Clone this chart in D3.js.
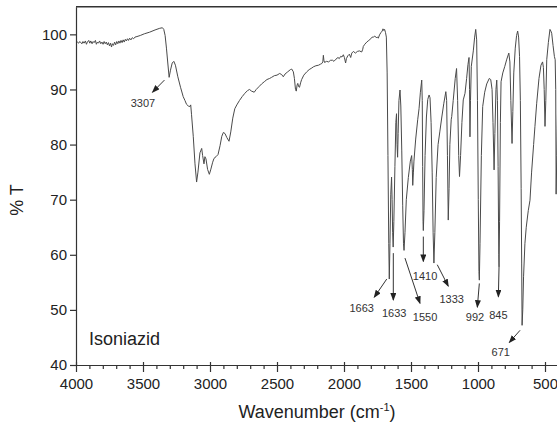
<!DOCTYPE html>
<meta charset="utf-8">
<style>
body { margin: 0; background: #fff; }
text { font-family: 'Liberation Sans', Arial, sans-serif; fill: #222; }
.axis path, .axis line { stroke: #333; stroke-width: 1.2px; }
.axis text { font-size: 15px; fill: #222; }
.peak-label { font-size: 11px; fill: #333; }
</style>
<div id="chart"></div>
<script src="https://d3js.org/d3.v7.min.js"></script>
<script>
// FTIR spectrum of isoniazid
var wavenumber = [
  4000, 3990, 3980, 3972, 3965, 3955, 3948, 3940, 3930, 3922, 3915, 3905, 3897, 3890, 3880, 3872,
  3865, 3855, 3848, 3840, 3832, 3824, 3815, 3806, 3798, 3790, 3782, 3774, 3766, 3758, 3750, 3742,
  3735, 3728, 3720, 3712, 3704, 3696, 3688, 3680, 3672, 3664, 3656, 3648, 3640, 3632, 3624, 3616,
  3608, 3600, 3590, 3580, 3570, 3560, 3545, 3520, 3490, 3450, 3410, 3375, 3355, 3345, 3335, 3325,
  3315, 3305, 3295, 3282, 3270, 3258, 3240, 3220, 3200, 3187, 3175, 3162, 3150, 3144, 3138, 3125,
  3112, 3100, 3090, 3075, 3062, 3055, 3045, 3038, 3030, 3018, 3005, 2995, 2980, 2970, 2955, 2940,
  2925, 2912, 2900, 2888, 2875, 2858, 2845, 2830, 2815, 2800, 2780, 2760, 2740, 2720, 2705, 2690,
  2670, 2655, 2635, 2615, 2595, 2575, 2555, 2540, 2520, 2500, 2480, 2465, 2453, 2440, 2420, 2400,
  2390, 2378, 2370, 2362, 2356, 2350, 2345, 2338, 2332, 2324, 2316, 2300, 2278, 2260, 2240, 2229,
  2210, 2190, 2175, 2166, 2158, 2154, 2150, 2145, 2130, 2115, 2100, 2085, 2075, 2060, 2045, 2035,
  2025, 2015, 2005, 1997, 1988, 1982, 1972, 1960, 1950, 1942, 1930, 1915, 1900, 1885, 1868, 1860,
  1856, 1845, 1830, 1815, 1800, 1790, 1781, 1770, 1760, 1750, 1744, 1735, 1725, 1715, 1709, 1703,
  1697, 1690, 1684, 1678, 1672, 1666, 1662, 1657, 1651, 1645, 1641, 1637, 1633, 1628, 1620, 1613,
  1608, 1604, 1600, 1596, 1590, 1582, 1576, 1569, 1562, 1556, 1552, 1545, 1535, 1520, 1505, 1495,
  1490, 1487, 1482, 1478, 1465, 1450, 1440, 1430, 1420, 1416, 1413, 1410, 1408, 1403, 1395, 1385,
  1375, 1365, 1358, 1350, 1342, 1335, 1329, 1322, 1312, 1298, 1285, 1270, 1255, 1240, 1234, 1228,
  1222, 1216, 1210, 1200, 1196, 1185, 1170, 1160, 1152, 1144, 1138, 1130, 1120, 1110, 1097, 1085,
  1075, 1067, 1063, 1060, 1056, 1050, 1035, 1025, 1017, 1010, 1004, 998, 993, 990, 985, 975,
  965, 950, 935, 916, 905, 895, 888, 880, 874, 866, 860, 855, 850, 845, 843, 839,
  833, 828, 815, 800, 785, 770, 762, 755, 746, 740, 733, 722, 712, 704, 697, 690,
  684, 678, 674, 671, 666, 660, 650, 640, 625, 612, 600, 585, 575, 562, 545, 530,
  518, 512, 506, 500, 494, 487, 475, 463, 456, 450, 440, 430, 424, 420, 417, 412,
  405, 400
]
var transmittance = [
  98.5, 98.6, 98.4, 98.7, 98.5, 98.3, 98.7, 98.4, 98.8, 98.2, 98.6, 98.9, 98.4, 98.8, 98.3, 98.7,
  98.5, 98.9, 98.2, 98.6, 98.4, 98.8, 98.3, 98.6, 98.2, 98.7, 98.3, 98.6, 98.1, 98.5, 97.9, 98.4,
  97.7, 98.3, 98.0, 98.6, 98.1, 98.7, 98.3, 98.8, 98.4, 98.9, 98.5, 99.0, 98.6, 99.1, 98.8, 99.2,
  98.9, 99.3, 99.0, 99.4, 99.2, 99.5, 99.6, 99.8, 100.1, 100.4, 100.8, 101.1, 101.2, 100.9, 99.8, 97.5,
  94.8, 92.2, 93.5, 94.8, 95.1, 94.4, 92.3, 90.4, 88.7, 88.0, 87.3, 87.0, 86.9, 87.2, 85.5, 81.5,
  76.5, 73.2, 75.0, 78.5, 79.3, 78.0, 76.5, 77.8, 77.4, 75.5, 74.6, 75.4, 76.8, 77.5, 77.8, 78.2,
  79.8, 81.5, 82.2, 82.0, 81.3, 80.6, 82.3, 84.8, 86.5, 87.2, 88.0, 88.7, 89.3, 89.8, 90.0, 89.7,
  89.5, 90.0, 90.5, 91.0, 91.4, 91.8, 92.0, 92.2, 92.5, 92.6, 92.9, 92.7, 92.3, 92.8, 93.2, 93.6,
  93.7, 93.2, 92.0, 90.0, 89.7, 90.8, 91.1, 90.5, 90.4, 91.2, 91.8, 92.6, 93.2, 93.6, 93.9, 94.1,
  94.3, 94.4, 94.6, 94.7, 95.0, 96.2, 95.3, 94.9, 95.1, 95.0, 95.3, 95.3, 95.1, 95.5, 95.8, 95.6,
  96.0, 95.9, 96.3, 95.8, 94.8, 95.6, 96.1, 96.4, 95.8, 96.6, 96.9, 96.6, 96.9, 97.0, 96.8, 97.3,
  97.8, 98.2, 98.6, 98.9, 99.2, 99.5, 99.5, 99.7, 99.4, 99.5, 99.3, 99.9, 100.3, 100.6, 101.0, 100.7,
  100.9, 100.3, 99.5, 93.0, 78.0, 62.0, 55.6, 62.0, 71.0, 74.1, 70.0, 64.0, 61.4, 66.0, 76.0, 84.0,
  85.6, 80.0, 77.7, 82.0, 88.0, 89.9, 87.0, 79.0, 69.0, 62.0, 60.8, 64.0, 70.0, 74.0, 77.0, 78.0,
  75.5, 72.6, 75.0, 77.0, 81.0, 84.5, 86.5, 89.5, 91.7, 88.0, 76.0, 66.0, 64.4, 68.0, 78.0, 85.0,
  88.2, 89.0, 88.5, 84.0, 75.0, 64.0, 58.5, 64.0, 74.0, 80.0, 82.3, 85.0, 87.5, 89.6, 88.0, 78.0,
  66.3, 72.0, 80.0, 84.5, 85.1, 88.0, 92.0, 93.8, 88.0, 78.0, 74.2, 78.0, 84.0, 88.1, 89.3, 92.0,
  94.5, 95.8, 90.0, 81.4, 88.0, 94.2, 97.0, 99.5, 100.9, 99.0, 88.0, 70.0, 57.0, 55.4, 62.0, 78.0,
  86.9, 89.5, 91.0, 92.0, 91.8, 90.0, 84.0, 75.4, 82.0, 90.0, 91.7, 88.0, 76.0, 60.0, 57.8, 66.0,
  84.0, 91.4, 93.0, 94.2, 95.5, 96.6, 95.0, 88.0, 80.2, 86.0, 93.0, 97.5, 99.8, 100.6, 99.5, 96.0,
  88.0, 72.0, 58.5, 47.2, 50.0, 56.0, 62.0, 65.0, 68.0, 69.9, 75.0, 80.0, 83.3, 87.5, 92.0, 94.4,
  95.0, 94.0, 90.0, 83.3, 88.0, 95.4, 98.5, 100.9, 100.6, 100.2, 98.0, 96.0, 95.4, 90.0, 71.0, 78.0,
  88.0, 92.0
]

var xTicks = [4000, 3500, 3000, 2500, 2000, 1500, 1000, 500]
var yTicks = [40, 50, 60, 70, 80, 90, 100]

var peakLabels = ['3307', '1663', '1633', '1550', '1410', '1333', '992', '845', '671']
// label anchor, arrow tail and arrow tip for each peak, in (cm-1, %T)
var labelAt = [[3500, 86.8], [1868, 49.6], [1625, 48.7], [1395, 48.0], [1395, 55.4], [1196, 51.3], [1022, 47.9], [848, 48.4], [830, 41.6]]
var arrowFrom = [[3340, 91.7], [1681, 55.6], [1632, 60.3], [1545, 59.4], [1408, 63.3], [1304, 58.2], [990, 54.8], [843, 57.8], [686, 46.3]]
var arrowTo = [[3429, 89.5], [1774, 52.3], [1632, 51.8], [1433, 51.2], [1408, 58.8], [1222, 54.3], [1005, 50.5], [848, 52.4], [766, 44.1]]

var width = 557
var height = 424

var svg = d3.select('#chart')
  .append('svg')
  .attr('width', width)
  .attr('height', height)

var xPositionScale = d3.scaleLinear().domain([4000, 400]).range([76, 558.4])
var yPositionScale = d3.scaleLinear().domain([40, 105]).range([365, 6.8])

svg.append('defs')
  .append('marker')
  .attr('id', 'arrow')
  .attr('markerUnits', 'userSpaceOnUse')
  .attr('markerWidth', 8)
  .attr('markerHeight', 6)
  .attr('refX', 7)
  .attr('refY', 3)
  .attr('orient', 'auto')
  .append('path')
  .attr('d', 'M0,0 L8,3 L0,6 Z')
  .attr('fill', '#222')

// top of the frame
svg.append('line')
  .attr('x1', xPositionScale(4000))
  .attr('x2', width)
  .attr('y1', yPositionScale(105))
  .attr('y2', yPositionScale(105))
  .attr('stroke', '#333')
  .attr('stroke-width', 1.4)

var spectrum = d3.line()
  .x((d, i) => xPositionScale(wavenumber[i]))
  .y(d => yPositionScale(d))

svg.append('path')
  .datum(transmittance)
  .attr('d', spectrum)
  .attr('fill', 'none')
  .attr('stroke', '#4a4a4a')
  .attr('stroke-width', 1)
  .attr('stroke-linejoin', 'round')

// axes
var minorTicks = d3.range(4000, 399, -100).filter(v => xTicks.indexOf(v) < 0)

svg.append('g')
  .attr('class', 'axis')
  .attr('transform', 'translate(0,' + yPositionScale(40) + ')')
  .call(d3.axisBottom(xPositionScale).tickValues(minorTicks).tickSize(4).tickFormat(''))
  .call(g => g.select('.domain').remove())

svg.append('g')
  .attr('class', 'axis')
  .attr('transform', 'translate(0,' + yPositionScale(40) + ')')
  .call(d3.axisTop(xPositionScale).tickValues(xTicks).tickSize(3).tickFormat(''))
  .call(g => g.select('.domain').remove())

svg.append('g')
  .attr('class', 'axis')
  .attr('transform', 'translate(0,' + yPositionScale(40) + ')')
  .call(d3.axisBottom(xPositionScale).tickValues(xTicks).tickFormat(d3.format('d'))
    .tickSize(7).tickPadding(6).tickSizeOuter(0))

svg.append('g')
  .attr('class', 'axis')
  .attr('transform', 'translate(' + xPositionScale(4000) + ',0)')
  .call(d3.axisLeft(yPositionScale).tickValues(yTicks).tickFormat(d3.format('d'))
    .tickSize(6).tickPadding(3).tickSizeOuter(0))

// peak arrows and labels
svg.selectAll('.peak-arrow')
  .data(peakLabels)
  .enter()
  .append('line')
  .attr('class', 'peak-arrow')
  .attr('x1', (d, i) => xPositionScale(arrowFrom[i][0]))
  .attr('y1', (d, i) => yPositionScale(arrowFrom[i][1]))
  .attr('x2', (d, i) => xPositionScale(arrowTo[i][0]))
  .attr('y2', (d, i) => yPositionScale(arrowTo[i][1]))
  .attr('stroke', '#333')
  .attr('stroke-width', 1)
  .attr('marker-end', 'url(#arrow)')

svg.selectAll('.peak-label')
  .data(peakLabels)
  .enter()
  .append('text')
  .attr('class', 'peak-label')
  .attr('x', (d, i) => xPositionScale(labelAt[i][0]))
  .attr('y', (d, i) => yPositionScale(labelAt[i][1]))
  .attr('text-anchor', 'middle')
  .text(d => d)

svg.append('text')
  .text('Isoniazid')
  .attr('x', 89)
  .attr('y', 345)
  .attr('font-size', 18)

var xTitle = svg.append('text')
  .attr('x', 317)
  .attr('y', 418)
  .attr('text-anchor', 'middle')
  .attr('font-size', 18)
xTitle.append('tspan').text('Wavenumber (cm')
xTitle.append('tspan').text('-1').attr('font-size', 11).attr('dy', -7)
xTitle.append('tspan').text(')').attr('dy', 7)

svg.append('text')
  .text('% T')
  .attr('transform', 'translate(23,200) rotate(-90)')
  .attr('text-anchor', 'middle')
  .attr('font-size', 18)
</script>
